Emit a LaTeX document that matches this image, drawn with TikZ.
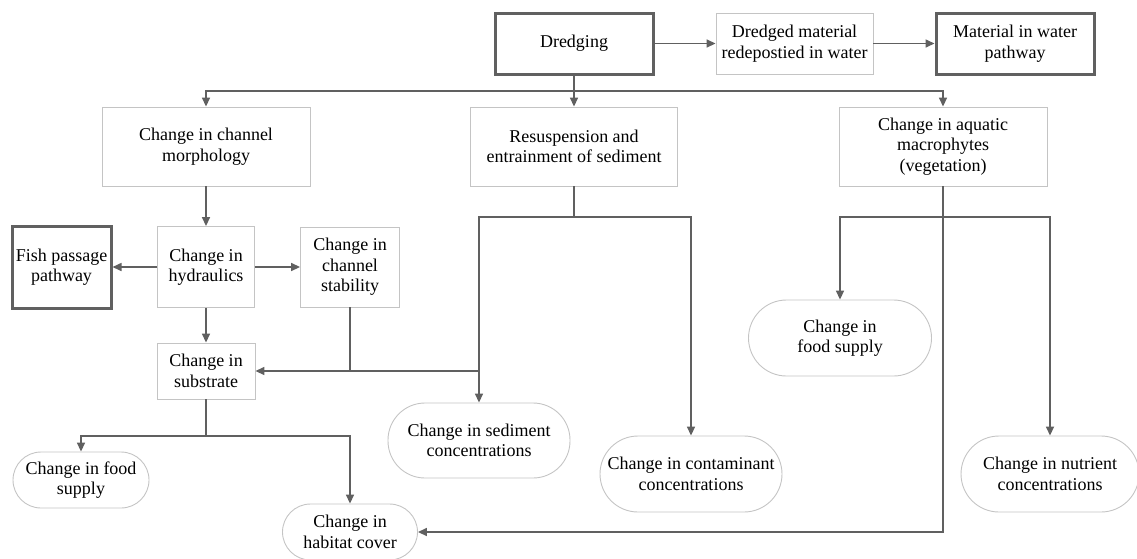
\documentclass[tikz,border=0pt]{standalone}
\usepackage{fontspec}
\setmainfont{Liberation Serif}
\usetikzlibrary{arrows.meta}
\definecolor{linegray}{HTML}{606060}
\definecolor{boxgray}{HTML}{C4C4C4}
\tikzset{
  base/.style={align=center, inner sep=0pt, font=\fontsize{18}{20.5}\selectfont, text=black},
  thinbox/.style={base, draw=boxgray, line width=0.9pt, rectangle},
  thickbox/.style={base, draw=linegray, line width=3pt, rectangle},
  pill/.style={base, draw=boxgray, line width=0.9pt, rectangle, rounded corners=#1},
  conn/.style={draw=linegray, line width=1.6pt},
  arr/.style={conn, -{Triangle[length=9pt,width=8pt]}},
}
\begin{document}
\begin{tikzpicture}[x=1pt,y=-1pt]
\useasboundingbox (0,0) rectangle (1137,558);
% top row
\node[thickbox, minimum width=158pt, minimum height=61pt] (dredge) at (574,43.5) {Dredging};
\node[thinbox, minimum width=157pt, minimum height=61pt] (dredged) at (794.5,43.5) {Dredged material\\redepostied in water};
\node[thickbox, minimum width=158pt, minimum height=61pt] (material) at (1015,43.5) {Material in water\\pathway};
% second row
\node[thinbox, minimum width=208pt, minimum height=79pt] (morph) at (206,146.5) {Change in channel\\morphology};
\node[thinbox, minimum width=207pt, minimum height=79pt] (resus) at (574,146.5) {Resuspension and\\entrainment of sediment};
\node[thinbox, minimum width=208pt, minimum height=79pt] (macro) at (943,146.5) {Change in aquatic\\macrophytes\\(vegetation)};
% third row
\node[thickbox, minimum width=99pt, minimum height=82pt] (fish) at (61.5,267) {Fish passage\\pathway};
\node[thinbox, minimum width=97pt, minimum height=81pt] (hyd) at (206,267) {Change in\\hydraulics};
\node[thinbox, minimum width=99pt, minimum height=80pt] (stab) at (350,267) {Change in\\channel\\stability};
\node[thinbox, minimum width=98pt, minimum height=56pt] (subs) at (206,371) {Change in\\substrate};
% outcomes
\node[pill=28pt, minimum width=136pt, minimum height=56pt] (foodL) at (81,480) {Change in food\\supply};
\node[pill=28pt, minimum width=135pt, minimum height=56pt] (hab) at (350,532) {Change in\\habitat cover};
\node[pill=37pt, minimum width=182pt, minimum height=75pt] (sed) at (479,440.5) {Change in sediment\\concentrations};
\node[pill=38pt, minimum width=182pt, minimum height=76pt] (cont) at (691,474) {Change in contaminant\\concentrations};
\node[pill=38pt, minimum width=183pt, minimum height=76pt] (foodR) at (840,338) {Change in\\food supply};
\node[pill=38pt, minimum width=178pt, minimum height=76pt] (nut) at (1050,474) {Change in nutrient\\concentrations};
% junction coordinates
\coordinate (br) at (574,91);
\coordinate (rs) at (574,217);
\coordinate (mj) at (479,371);
\coordinate (sj) at (206,436);
\coordinate (mc) at (943,217);
% connectors
\draw[arr] (dredge) -- (dredged);
\draw[arr] (dredged) -- (material);
\draw[arr] (dredge.south) -- (resus.north);
\draw[arr] (br) -| (morph.north);
\draw[arr] (br) -| (macro.north);
\draw[arr] (morph) -- (hyd);
\draw[arr] (hyd) -- (fish);
\draw[arr] (hyd) -- (stab);
\draw[arr] (hyd) -- (subs);
\draw[conn] (resus.south) -- (rs);
\draw[arr] (rs) -| (sed.north);
\draw[arr] (rs) -| (cont.north);
\draw[arr] (mj) -- (subs.east);
\draw[conn] (stab.south) -- (stab.south |- mj);
\draw[conn] (subs.south) -- (sj);
\draw[arr] (sj) -| (foodL.north);
\draw[arr] (sj) -| (hab.north);
\draw[conn] (macro.south) -- (mc);
\draw[arr] (mc) -| (foodR.north);
\draw[arr] (mc) -| (nut.north);
\draw[arr] (mc) |- (hab.east);
\end{tikzpicture}
\end{document}
